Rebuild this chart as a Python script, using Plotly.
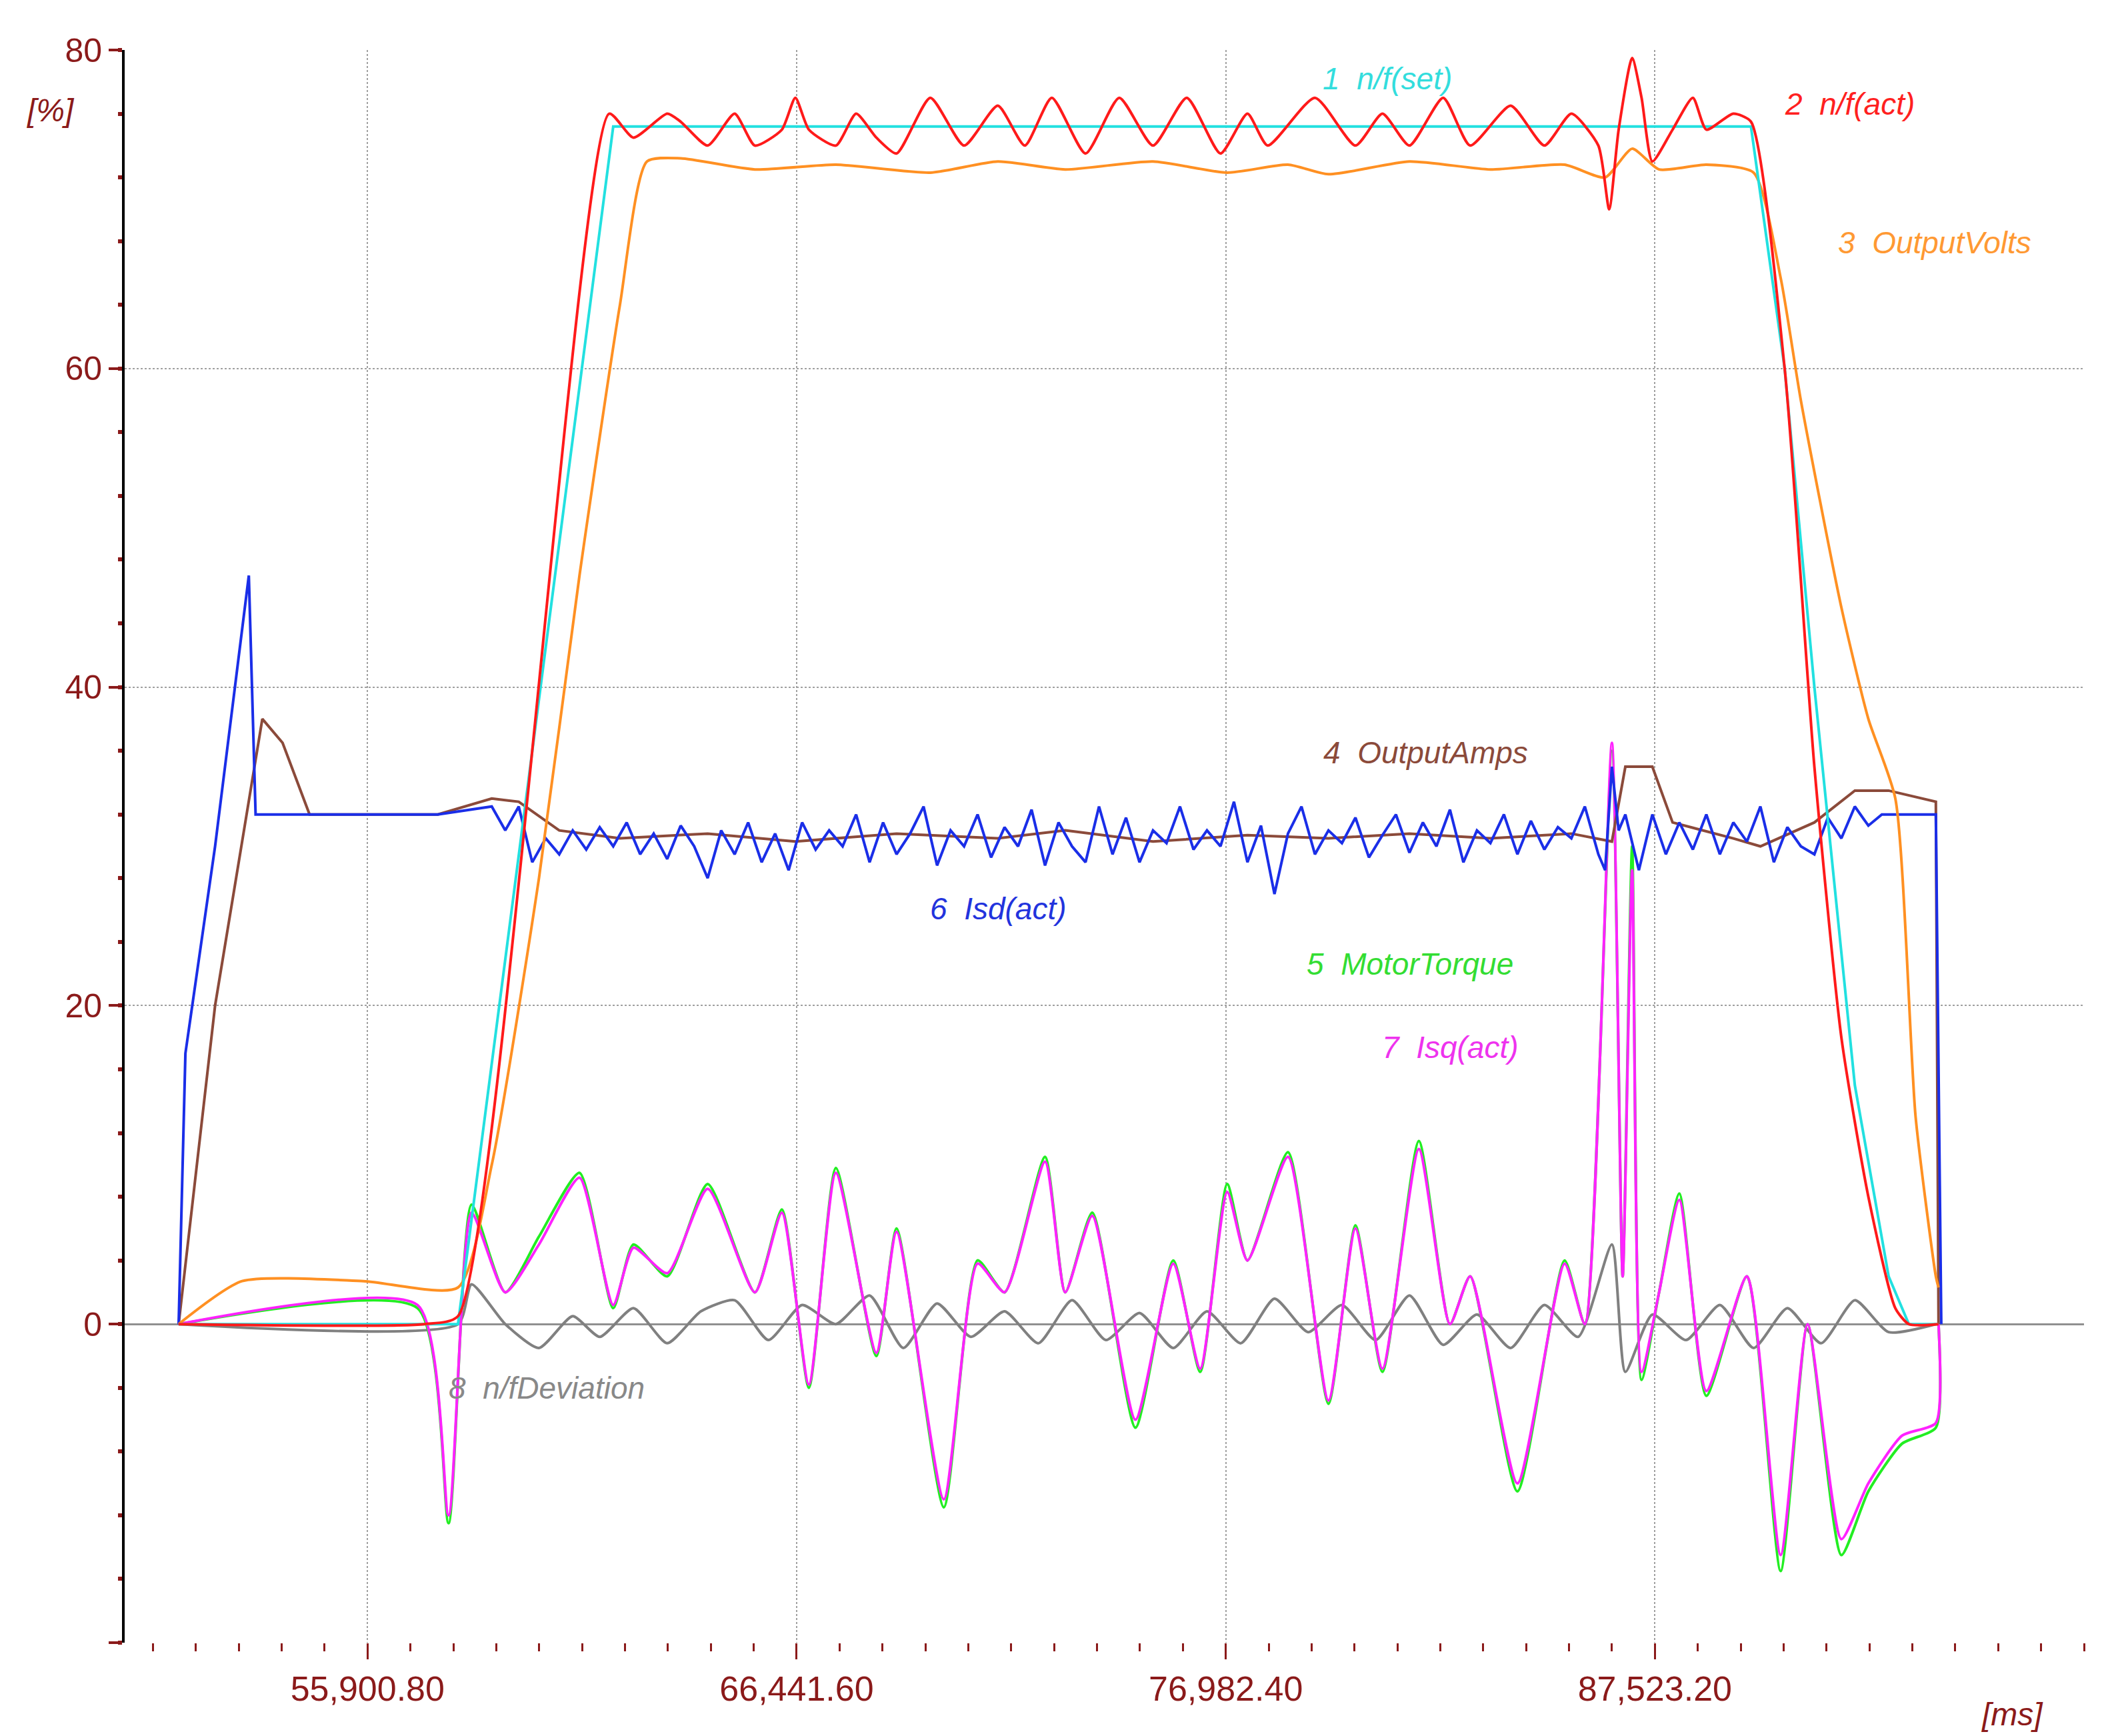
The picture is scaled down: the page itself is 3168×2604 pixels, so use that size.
import plotly.graph_objects as go

# ---------------- data (time in ms, values in %) ----------------
set_t = [51261, 58123, 61936, 89883, 90711, 91441, 92435, 93265, 93762, 94491]
set_v = [0, 0, 75.2, 75.2, 60, 40, 15, 3, 0, 0]

act_t = [51261, 57294, 58123, 61836, 62433, 63262, 63593, 64256, 64919, 65416, 66079, 66410, 66742,
         67405, 67902, 68399, 68896, 69725, 70554, 71383, 72046, 72709, 73538, 74366, 75195, 76024,
         76853, 77515, 78013, 79173, 80168, 80831, 81494, 82323, 82986, 83980, 84809, 85472, 86135,
         86400, 86633, 86964, 87196, 87461, 87958, 88456, 88787, 89450, 89883, 90711, 91441, 92104,
         92767, 93430, 93762, 94491]
act_v = [0, 0, 0.5, 76, 74.5, 76, 75.5, 74, 76, 74, 75, 77, 75,
         74, 76, 74.5, 73.5, 77, 74, 76.5, 74, 77, 73.5, 77, 74, 77,
         73.5, 76, 74, 77, 74, 76, 74, 77, 74, 76.5, 74, 76, 74,
         70, 75, 79.5, 77, 73, 75, 77, 75, 76, 75.5, 60, 35, 18,
         8, 1, 0, 0]

volts_t = [51261, 52820, 55803, 58123, 58952, 60112, 61107, 62101, 62764, 63593, 65416, 67405, 69725,
           71383, 73040, 75195, 77018, 78510, 79505, 81494, 83483, 85306, 86301, 86964, 87627, 88787,
           89949, 90612, 91109, 92104, 92767, 93430, 93928, 94425, 94491]
volts_v = [0, 2.7, 2.7, 2.3, 10, 28, 47, 64, 73, 73.2, 72.5, 72.8, 72.3,
           73, 72.5, 73, 72.3, 72.8, 72.2, 73, 72.5, 72.8, 72, 73.8, 72.5, 72.8,
           72.3, 65.7, 58, 45, 38, 33, 13, 3, 2.3]

amps_t = [51261, 52156, 53317, 53814, 54477, 57626, 58952, 59615, 60610, 62101, 64256, 66410, 68896,
          71383, 73040, 75195, 77515, 79505, 81494, 83483, 85472, 86467, 86798, 87461, 87958, 89450,
          90115, 91441, 92435, 93265, 94425, 94491]
amps_v = [0, 20, 38, 36.5, 32, 32, 33, 32.8, 31, 30.5, 30.8, 30.3, 30.8,
          30.5, 31, 30.3, 30.7, 30.5, 30.8, 30.5, 30.8, 30.3, 35, 35, 31.5, 30.5,
          30, 31.5, 33.5, 33.5, 32.8, 0]

isd_t = [51261, 51427, 52156, 52985, 53151, 57626, 58952, 59284, 59615, 59947, 60278, 60610, 60941, 61273,
         61604, 61936, 62267, 62598, 62930, 63262, 63593, 63925, 64256, 64588, 64919, 65250, 65582, 65913,
         66245, 66576, 66908, 67240, 67571, 67902, 68234, 68565, 68896, 69228, 69559, 69891, 70222, 70554,
         70886, 71217, 71549, 71880, 72212, 72543, 72875, 73206, 73538, 73869, 74201, 74532, 74864, 75195,
         75527, 75858, 76190, 76521, 76853, 77184, 77515, 77847, 78179, 78510, 78842, 79173, 79505, 79836,
         80168, 80499, 80831, 81162, 81494, 81825, 82157, 82489, 82820, 83152, 83483, 83815, 84146, 84478,
         84809, 85141, 85472, 85803, 86135, 86301, 86467, 86633, 86798, 87130, 87461, 87793, 88124, 88456,
         88787, 89119, 89450, 89785, 90115, 90446, 90778, 91109, 91441, 91772, 92104, 92435, 92767, 93098,
         93430, 94425, 94491, 94558]
isd_v = [0, 17, 30, 47, 32, 32, 32.5, 31, 32.5, 29, 30.5, 29.5, 31, 29.8,
         31.2, 30, 31.5, 29.5, 30.8, 29.2, 31.3, 30, 28, 31, 29.5, 31.5, 29, 30.8,
         28.5, 31.5, 29.8, 31, 30, 32, 29, 31.5, 29.5, 30.8, 32.5, 28.8, 31, 30,
         32, 29.3, 31.2, 30, 32.3, 28.8, 31.5, 30, 29, 32.5, 29.5, 31.8, 29, 31,
         30.2, 32.5, 29.8, 31, 30, 32.8, 29, 31.3, 27, 30.8, 32.5, 29.5, 31, 30.2,
         31.8, 29.3, 30.7, 32, 29.6, 31.5, 30, 32.3, 29, 31, 30.2, 32, 29.5, 31.6,
         29.8, 31.2, 30.5, 32.5, 29.5, 28.5, 35, 31, 32, 28.5, 32, 29.5, 31.5, 29.8,
         32, 29.5, 31.5, 30.3, 32.5, 29, 31.2, 30, 29.5, 31.8, 30.5, 32.5, 31.3, 32,
         32, 32, 16, 0]

torque_t = [51261, 57129, 57891, 58455, 59284, 60112, 61107, 61936, 62433, 63262, 64256, 65416, 66079,
            66742, 67405, 68399, 68896, 70057, 70886, 71549, 72543, 73040, 73703, 74764, 75692, 76355,
            77018, 77515, 78510, 79505, 80168, 80831, 81726, 82489, 82986, 84146, 85306, 85803, 86467,
            86732, 86964, 87196, 87627, 88124, 88787, 89785, 90612, 91275, 92104, 92767, 93596, 94425,
            94491]
torque_v = [0, 1, -12.5, 7.5, 2, 5.5, 9.5, 1, 5, 3, 8.8, 2, 7.2,
            -4, 9.8, -2, 6, -11.5, 4, 2, 10.5, 2, 7, -6.5, 4, -3,
            8.8, 4, 10.8, -5, 6.2, -3, 11.5, 0, 3, -10.5, 4, 0, 36,
            3, 30, -3.5, 2, 8.2, -4.5, 3, -15.5, 0, -14.5, -10.5, -7.5, -6.5,
            0]

isq_t = torque_t
isq_v = [0, 1.2, -12, 7, 2, 5, 9.2, 1.2, 4.8, 3.2, 8.5, 2, 7,
         -3.8, 9.5, -1.8, 5.8, -11, 3.8, 2, 10.2, 2, 6.8, -6, 3.8, -2.8,
         8.3, 4, 10.5, -4.8, 6, -2.8, 11, 0, 3, -10, 3.8, 0, 36.5,
         3, 28.5, -3, 2, 7.8, -4.2, 3, -14.5, 0, -13.5, -10, -7, -6.2,
         0]

dev_t = [51261, 58123, 58455, 59284, 60112, 60941, 61604, 62433, 63262, 64088, 64919, 65748, 66576,
         67405, 68234, 69062, 69891, 70720, 71549, 72377, 73206, 74035, 74864, 75692, 76521, 77350,
         78179, 79007, 79836, 80665, 81494, 82323, 83152, 83980, 84809, 85638, 86467, 86798, 87461,
         88290, 89119, 89949, 90778, 91607, 92435, 93264, 94425]
dev_v = [0, 0, 2.5, 0, -1.5, 0.5, -0.8, 1, -1.2, 0.8, 1.5, -1, 1.2,
         0, 1.8, -1.5, 1.3, -0.8, 0.8, -1.2, 1.5, -1, 0.7, -1.5, 0.8, -1.2,
         1.6, -0.5, 1.2, -1, 1.8, -1.3, 0.6, -1.5, 1.2, -0.8, 5, -3, 0.6,
         -1, 1.2, -1.5, 1, -1.2, 1.5, -0.5, 0]

x_ticks = [55900.8, 66441.6, 76982.4, 87523.2]
x_tick_labels = ["55,900.80", "66,441.60", "76,982.40", "87,523.20"]
y_ticks = [-20, 0, 20, 40, 60, 80]
y_tick_labels = ["", "0", "20", "40", "60", "80"]

labels = [
    ("1  n/f(set)", 80950, 78.2, "#33dddd"),
    ("2  n/f(act)", 92300, 76.6, "#ff2020"),
    ("3  OutputVolts", 94400, 67.9, "#ff9933"),
    ("4  OutputAmps", 81900, 35.9, "#8b4a3a"),
    ("6  Isd(act)", 71400, 26.1, "#2233dd"),
    ("5  MotorTorque", 81500, 22.6, "#33dd33"),
    ("7  Isq(act)", 82500, 17.4, "#ee33ee"),
    ("8  n/fDeviation", 60300, -4, "#888888"),
]

fig = go.Figure()
series = [
    (dev_t, dev_v, "#808080", "spline"),
    (torque_t, torque_v, "#22ee22", "spline"),
    (isq_t, isq_v, "#ff22ff", "spline"),
    (amps_t, amps_v, "#8b4a3a", "linear"),
    (isd_t, isd_v, "#1a2ee8", "linear"),
    (volts_t, volts_v, "#ff9022", "spline"),
    (set_t, set_v, "#22e0e0", "linear"),
    (act_t, act_v, "#ff1a1a", "spline"),
]
for t, v, c, shp in series:
    fig.add_trace(go.Scatter(x=t, y=v, mode="lines",
                             line=dict(color=c, width=4, shape=shp, smoothing=0.6),
                             showlegend=False))

for txt, x, y, c in labels:
    fig.add_annotation(x=x, y=y, text="<i>" + txt + "</i>", showarrow=False, xanchor="center",
                       font=dict(family="Liberation Sans", size=46, color=c))

tickcol = "#8b1a1a"
fig.add_annotation(xref="paper", yref="y", x=-0.025, y=76.2, text="<i>[%]</i>", showarrow=False,
                   xanchor="right", font=dict(family="Liberation Sans", size=48, color=tickcol))
fig.add_annotation(xref="x", yref="paper", x=96300, y=-0.033, text="<i>[ms]</i>", showarrow=False,
                   yanchor="top", font=dict(family="Liberation Sans", size=48, color=tickcol))

fig.update_layout(
    width=3168, height=2604, plot_bgcolor="white", paper_bgcolor="white",
    margin=dict(l=179, r=50, t=67, b=148),
    font=dict(family="Liberation Sans", size=52, color=tickcol),
)
fig.update_xaxes(range=[49935, 98064], tickvals=x_ticks, ticktext=x_tick_labels,
                 showgrid=True, gridcolor="#a0a0a0", griddash="dot", gridwidth=2,
                 ticks="outside", ticklen=24, tickwidth=3, tickcolor=tickcol,
                 minor=dict(dtick=1054.08, tick0=55900.8, ticks="outside", ticklen=12, tickwidth=3,
                            tickcolor=tickcol, showgrid=False),
                 showline=False, zeroline=False, tickfont=dict(size=52))
fig.update_yaxes(range=[-20, 80], tickvals=y_ticks, ticktext=y_tick_labels,
                 showgrid=True, gridcolor="#a0a0a0", griddash="dot", gridwidth=2,
                 ticks="outside", ticklen=20, tickwidth=4, tickcolor=tickcol,
                 minor=dict(dtick=4, tick0=0, ticks="outside", ticklen=6, tickwidth=6,
                            tickcolor=tickcol, showgrid=False),
                 zeroline=True, zerolinecolor="#909090", zerolinewidth=3,
                 showline=True, linecolor="black", linewidth=4, tickfont=dict(size=50))

fig.write_html("out.html")
